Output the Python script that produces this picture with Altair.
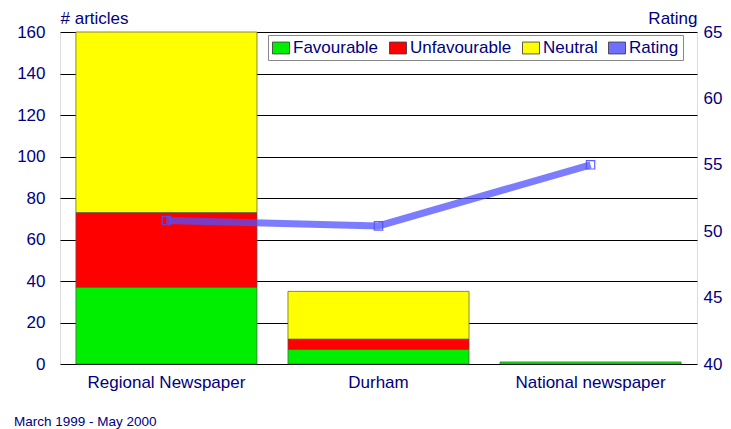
import altair as alt
import pandas as pd

outlets = ["Regional Newspaper", "Durham", "National newspaper"]
favourable = [37, 7, 1]
unfavourable = [36, 5, 0]
neutral = [87, 23, 0]
rating = [50.8, 50.4, 55.0]

categories = ["Favourable", "Unfavourable", "Neutral", "Rating"]
colors = ["#00ee00", "#ff0000", "#ffff00", "#6e6eff"]
NAVY = "#000080"
FONT = "Liberation Sans"

rows = []
for i, o in enumerate(outlets):
    for k, (name, vals) in enumerate(
        [("Favourable", favourable), ("Unfavourable", unfavourable), ("Neutral", neutral)]
    ):
        rows.append({"outlet": o, "type": name, "count": vals[i], "ord": k})
bars_df = pd.DataFrame(rows)
rating_df = pd.DataFrame({"outlet": outlets, "rating": rating})

xenc = alt.X(
    "outlet:N",
    sort=outlets,
    scale=alt.Scale(paddingInner=0.146, paddingOuter=0.075),
    axis=alt.Axis(
        title=None, labelAngle=0, ticks=False, domain=False, labelPadding=10,
        labelFontSize=17, labelColor=NAVY, labelFont=FONT,
    ),
)

bars = (
    alt.Chart(bars_df)
    .transform_filter("datum.count > 0")
    .mark_bar(stroke="#555555", strokeWidth=0.7)
    .encode(
        x=xenc,
        y=alt.Y(
            "count:Q",
            stack="zero",
            scale=alt.Scale(domain=[0, 160], nice=False),
            axis=alt.Axis(
                title="# articles", titleAngle=0, titleAlign="left", titleX=0, titleY=-9,
                titleBaseline="alphabetic", titleFontSize=17, titleFontWeight="normal",
                titleColor=NAVY, titleFont=FONT,
                values=list(range(0, 161, 20)), ticks=False, domain=False,
                labelPadding=15, labelFontSize=17, labelColor=NAVY, labelFont=FONT,
                grid=True, gridColor="#000000", gridWidth=1, gridOpacity=1,
            ),
        ),
        color=alt.Color(
            "type:N",
            scale=alt.Scale(domain=categories, range=colors),
            legend=alt.Legend(
                title=None, orient="none", legendX=208, legendY=3, direction="horizontal",
                strokeColor="#888888", fillColor="#ffffff", padding=4,
                symbolType="M-1,-0.7L1,-0.7L1,0.7L-1,0.7Z", symbolSize=289,
                symbolStrokeColor="#333333", symbolStrokeWidth=0.8, symbolOpacity=1,
                labelFontSize=17, labelColor=NAVY, labelFont=FONT, labelOffset=3,
                columnPadding=8,
            ),
        ),
        order=alt.Order("ord:Q", sort="ascending"),
    )
)

line = (
    alt.Chart(rating_df)
    .mark_line(color="#5050ff", strokeWidth=7, opacity=0.75,
               point=alt.OverlayMarkDef(shape="square", filled=False, size=70,
                                        color="#5050ff", strokeWidth=1.2, opacity=0.9))
    .encode(
        x=alt.X("outlet:N", sort=outlets),
        y=alt.Y(
            "rating:Q",
            scale=alt.Scale(domain=[40, 65], nice=False),
            axis=alt.Axis(
                orient="right", title="Rating", titleAngle=0, titleAlign="right", titleX=0,
                titleY=-9, titleBaseline="alphabetic", titleFontSize=17,
                titleFontWeight="normal", titleColor=NAVY, titleFont=FONT,
                values=list(range(40, 66, 5)), ticks=False, domain=False, grid=False,
                labelPadding=6, labelFontSize=17, labelColor=NAVY, labelFont=FONT,
            ),
        ),
    )
)

chart = (
    alt.layer(bars, line)
    .resolve_scale(y="independent")
    .properties(
        width=637,
        height=332,
        autosize=alt.AutoSizeParams(type="none"),
        padding={"left": 52, "top": 24, "right": 26, "bottom": 65},
        title=alt.TitleParams(
            "March 1999 - May 2000", orient="bottom", anchor="start", frame="group",
            dx=-46, offset=25, fontSize=13.5, fontWeight="normal", color=NAVY, font=FONT,
        ),
    )
    .configure_view(stroke="#999999", strokeWidth=1)
    .configure(background="#ffffff")
)

chart.save("out.html", embed_options={"renderer": "svg", "actions": False})
